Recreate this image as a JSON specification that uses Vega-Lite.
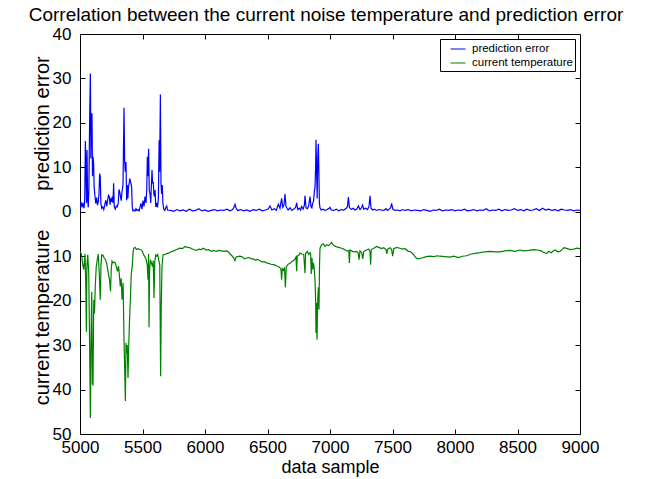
{
  "$schema": "https://vega.github.io/schema/vega-lite/v6.json",
  "width": 500,
  "height": 400,
  "autosize": {"type": "none"},
  "padding": {"left": 80, "top": 34, "right": 71, "bottom": 45},
  "title": {"text": "Correlation between the current noise temperature and prediction error", "fontSize": 19, "font": "Liberation Sans", "fontWeight": "normal", "color": "black", "anchor": "middle", "offset": 0, "dx": -4},
  "datasets": {
    "err": [
      {"x":5000,"e":0.5},{"x":5008,"e":2.2},{"x":5016,"e":1.0},{"x":5024,"e":2.0},{"x":5032,"e":0.8},{"x":5038,"e":3},{"x":5043,"e":15.9},{"x":5048,"e":9},{"x":5052,"e":2},{"x":5056,"e":13.9},{"x":5061,"e":3},{"x":5066,"e":1},{"x":5071,"e":5},{"x":5077,"e":20.4},{"x":5083,"e":31.1},{"x":5087,"e":12},{"x":5091,"e":22.1},{"x":5096,"e":21.9},{"x":5100,"e":8},{"x":5104,"e":12.4},{"x":5109,"e":10.9},{"x":5113,"e":5.6},{"x":5120,"e":3.5},{"x":5126,"e":1.9},{"x":5133,"e":3.2},{"x":5140,"e":1.5},{"x":5146,"e":2.2},{"x":5152,"e":4},{"x":5157,"e":8.6},{"x":5162,"e":7.9},{"x":5167,"e":1.9},{"x":5174,"e":0.8},{"x":5182,"e":1.1},{"x":5190,"e":0.5},{"x":5198,"e":1.5},{"x":5206,"e":2.6},{"x":5214,"e":1.2},{"x":5222,"e":2.8},{"x":5228,"e":3.7},{"x":5235,"e":3.4},{"x":5240,"e":1.6},{"x":5246,"e":3.0},{"x":5252,"e":2.2},{"x":5258,"e":3.4},{"x":5264,"e":2.0},{"x":5269,"e":6.4},{"x":5274,"e":1.1},{"x":5282,"e":0.6},{"x":5290,"e":1.3},{"x":5298,"e":1.1},{"x":5306,"e":2.0},{"x":5312,"e":5.0},{"x":5318,"e":4.5},{"x":5324,"e":3.4},{"x":5330,"e":2.5},{"x":5336,"e":4.5},{"x":5344,"e":6},{"x":5352,"e":23.4},{"x":5357,"e":11.6},{"x":5362,"e":9},{"x":5368,"e":11.2},{"x":5373,"e":2.6},{"x":5378,"e":6.0},{"x":5383,"e":3},{"x":5388,"e":5.6},{"x":5394,"e":6.5},{"x":5398,"e":7.5},{"x":5403,"e":6.8},{"x":5408,"e":6.4},{"x":5413,"e":5.5},{"x":5418,"e":1.1},{"x":5424,"e":0.2},{"x":5432,"e":0.4},{"x":5440,"e":0.2},{"x":5448,"e":0.7},{"x":5456,"e":0.3},{"x":5464,"e":0.5},{"x":5472,"e":0.2},{"x":5480,"e":1.0},{"x":5488,"e":1.9},{"x":5496,"e":0.6},{"x":5504,"e":2.5},{"x":5512,"e":1.2},{"x":5520,"e":3.4},{"x":5528,"e":2},{"x":5534,"e":5},{"x":5539,"e":12.4},{"x":5544,"e":8},{"x":5549,"e":14.2},{"x":5554,"e":4.9},{"x":5560,"e":4.0},{"x":5566,"e":2},{"x":5571,"e":6},{"x":5576,"e":9.4},{"x":5581,"e":6.4},{"x":5586,"e":6.7},{"x":5591,"e":4},{"x":5596,"e":3.4},{"x":5601,"e":4.9},{"x":5606,"e":1.1},{"x":5612,"e":2},{"x":5620,"e":1},{"x":5627,"e":3},{"x":5633,"e":16.1},{"x":5637,"e":9},{"x":5643,"e":26.4},{"x":5648,"e":6.4},{"x":5653,"e":4},{"x":5658,"e":6},{"x":5663,"e":2},{"x":5670,"e":0.6},{"x":5678,"e":0.3},{"x":5686,"e":0.9},{"x":5694,"e":1.3},{"x":5700,"e":0.4},
      {"x":5725,"e":0.3},{"x":5750,"e":0.1},{"x":5775,"e":0.5},{"x":5800,"e":0.2},{"x":5825,"e":0.4},{"x":5850,"e":0.1},{"x":5875,"e":0.6},{"x":5900,"e":0.2},{"x":5925,"e":0.3},{"x":5950,"e":0.7},{"x":5975,"e":0.2},{"x":6000,"e":0.4},{"x":6025,"e":0.1},{"x":6050,"e":0.3},{"x":6075,"e":0.5},{"x":6100,"e":0.2},{"x":6125,"e":0.4},{"x":6150,"e":0.3},{"x":6175,"e":0.6},{"x":6200,"e":0.2},{"x":6220,"e":0.5},{"x":6232,"e":1.0},{"x":6240,"e":1.7},{"x":6248,"e":0.9},{"x":6260,"e":0.3},{"x":6285,"e":0.5},{"x":6310,"e":0.2},{"x":6335,"e":0.4},{"x":6360,"e":0.1},{"x":6385,"e":0.5},{"x":6410,"e":0.3},{"x":6435,"e":0.6},{"x":6460,"e":0.2},{"x":6485,"e":0.4},{"x":6505,"e":0.6},{"x":6520,"e":1.3},{"x":6535,"e":0.4},{"x":6555,"e":0.7},{"x":6570,"e":0.3},{"x":6587,"e":1.7},{"x":6600,"e":0.8},{"x":6613,"e":3.0},{"x":6622,"e":1.0},{"x":6632,"e":1.5},{"x":6640,"e":4.0},{"x":6648,"e":1.2},{"x":6656,"e":0.8},{"x":6665,"e":0.4},{"x":6680,"e":0.9},{"x":6695,"e":0.3},{"x":6710,"e":0.6},{"x":6725,"e":1.0},{"x":6733,"e":2.0},{"x":6742,"e":0.5},{"x":6755,"e":0.8},{"x":6765,"e":0.4},{"x":6773,"e":1.2},{"x":6785,"e":0.6},{"x":6795,"e":1.5},{"x":6800,"e":3.6},{"x":6808,"e":0.9},{"x":6820,"e":0.7},{"x":6830,"e":1.4},{"x":6840,"e":3.4},{"x":6848,"e":1.2},{"x":6855,"e":0.9},{"x":6861,"e":1.9},{"x":6868,"e":2.3},{"x":6875,"e":4.6},{"x":6880,"e":5.5},{"x":6885,"e":10},{"x":6888,"e":16.2},{"x":6893,"e":9},{"x":6897,"e":3},{"x":6902,"e":12},{"x":6907,"e":15.3},{"x":6911,"e":9},{"x":6915,"e":2.0},{"x":6920,"e":0.9},{"x":6930,"e":0.4},{"x":6945,"e":0.6},{"x":6960,"e":0.3},{"x":6975,"e":0.5},{"x":6990,"e":0.7},{"x":7000,"e":1.0},{"x":7010,"e":0.4},{"x":7030,"e":0.3},{"x":7050,"e":0.6},{"x":7070,"e":0.2},{"x":7090,"e":0.5},{"x":7110,"e":0.4},{"x":7130,"e":0.8},{"x":7140,"e":1.2},{"x":7147,"e":3.3},{"x":7155,"e":1.0},{"x":7170,"e":0.5},{"x":7185,"e":0.8},{"x":7200,"e":0.4},{"x":7215,"e":0.6},{"x":7227,"e":1.3},{"x":7240,"e":0.5},{"x":7252,"e":0.9},{"x":7261,"e":1.5},{"x":7270,"e":0.6},{"x":7285,"e":0.8},{"x":7300,"e":0.5},{"x":7312,"e":1.2},{"x":7320,"e":3.6},{"x":7328,"e":0.8},{"x":7340,"e":0.4},{"x":7355,"e":0.6},{"x":7370,"e":0.3},{"x":7390,"e":0.5},{"x":7410,"e":0.4},{"x":7430,"e":0.3},{"x":7448,"e":0.7},{"x":7460,"e":0.3},{"x":7475,"e":0.6},{"x":7485,"e":0.9},{"x":7493,"e":1.9},{"x":7502,"e":0.6},{"x":7520,"e":0.3},{"x":7540,"e":0.4},{"x":7560,"e":0.2},{"x":7580,"e":0.5},
      {"x":7600,"e":0.3},{"x":7625,"e":0.5},{"x":7650,"e":0.2},{"x":7675,"e":0.4},{"x":7700,"e":0.3},{"x":7725,"e":0.2},{"x":7750,"e":0.5},{"x":7775,"e":0.3},{"x":7800,"e":0.1},{"x":7825,"e":0.4},{"x":7850,"e":0.3},{"x":7875,"e":0.6},{"x":7900,"e":0.2},{"x":7925,"e":0.4},{"x":7950,"e":0.3},{"x":7975,"e":0.5},{"x":8000,"e":0.2},{"x":8025,"e":0.4},{"x":8050,"e":0.3},{"x":8075,"e":0.6},{"x":8100,"e":0.2},{"x":8125,"e":0.3},{"x":8150,"e":0.5},{"x":8175,"e":0.2},{"x":8200,"e":0.4},{"x":8225,"e":0.3},{"x":8250,"e":0.7},{"x":8275,"e":0.2},{"x":8300,"e":0.4},{"x":8325,"e":0.3},{"x":8350,"e":0.6},{"x":8375,"e":0.2},{"x":8400,"e":0.5},{"x":8425,"e":0.3},{"x":8450,"e":0.4},{"x":8475,"e":0.7},{"x":8500,"e":0.3},{"x":8525,"e":0.5},{"x":8550,"e":0.2},{"x":8575,"e":0.6},{"x":8600,"e":0.3},{"x":8625,"e":0.4},{"x":8650,"e":0.7},{"x":8675,"e":0.3},{"x":8700,"e":0.8},{"x":8725,"e":0.4},{"x":8750,"e":0.6},{"x":8775,"e":0.3},{"x":8800,"e":0.5},{"x":8825,"e":0.2},{"x":8850,"e":0.6},{"x":8875,"e":0.4},{"x":8900,"e":0.3},{"x":8925,"e":0.5},{"x":8950,"e":0.2},{"x":8975,"e":0.4},{"x":9000,"e":0.3}
    ],
    "temp": [
      {"x":5000,"t":8.9},{"x":5008,"t":9.3},{"x":5014,"t":10},{"x":5020,"t":11.5},{"x":5030,"t":13},{"x":5040,"t":9.5},{"x":5046,"t":16},{"x":5051,"t":27},{"x":5055,"t":12.3},{"x":5062,"t":9.7},{"x":5070,"t":14},{"x":5077,"t":30.3},{"x":5083,"t":46.4},{"x":5088,"t":28.8},{"x":5094,"t":18},{"x":5099,"t":38.7},{"x":5104,"t":38.9},{"x":5110,"t":19.8},{"x":5116,"t":22.8},{"x":5122,"t":16.8},{"x":5130,"t":12.3},{"x":5138,"t":10.8},{"x":5146,"t":9.5},{"x":5154,"t":13.8},{"x":5162,"t":19.8},{"x":5168,"t":12},{"x":5174,"t":9.7},{"x":5184,"t":9.8},{"x":5194,"t":10.4},{"x":5204,"t":10.8},{"x":5212,"t":11.5},{"x":5222,"t":13},{"x":5230,"t":14.5},{"x":5236,"t":15.3},{"x":5244,"t":17.9},{"x":5250,"t":13},{"x":5256,"t":11.1},{"x":5264,"t":11.5},{"x":5272,"t":11.3},{"x":5282,"t":11.5},{"x":5290,"t":12.3},{"x":5300,"t":13.4},{"x":5308,"t":12.2},{"x":5316,"t":14.5},{"x":5322,"t":16.8},{"x":5330,"t":15},{"x":5336,"t":19.8},{"x":5345,"t":16},{"x":5352,"t":28.8},{"x":5358,"t":36},{"x":5363,"t":42.6},{"x":5368,"t":29.5},{"x":5373,"t":31.8},{"x":5378,"t":30},{"x":5384,"t":37.4},{"x":5389,"t":31},{"x":5395,"t":25.3},{"x":5403,"t":19.8},{"x":5410,"t":14},{"x":5418,"t":12.3},{"x":5425,"t":9},{"x":5430,"t":8.2},{"x":5440,"t":8.0},{"x":5452,"t":8.5},{"x":5465,"t":8.3},{"x":5478,"t":8.5},{"x":5490,"t":8.6},{"x":5500,"t":9.0},{"x":5510,"t":9.7},{"x":5520,"t":10.2},{"x":5530,"t":10.8},{"x":5538,"t":12},{"x":5544,"t":15.3},{"x":5549,"t":9.5},{"x":5552,"t":26},{"x":5557,"t":13},{"x":5564,"t":10.8},{"x":5572,"t":11.6},{"x":5580,"t":12.3},{"x":5586,"t":11},{"x":5592,"t":19.4},{"x":5598,"t":11.2},{"x":5606,"t":9.7},{"x":5614,"t":10},{"x":5622,"t":9.6},{"x":5630,"t":10.8},{"x":5638,"t":12},{"x":5645,"t":37},{"x":5650,"t":21.3},{"x":5656,"t":12.3},{"x":5664,"t":9.7},{"x":5680,"t":9.6},{"x":5693,"t":9.4},{"x":5710,"t":9.3},{"x":5730,"t":9.0},{"x":5750,"t":8.8},{"x":5773,"t":8.5},{"x":5800,"t":8.2},{"x":5820,"t":8.3},{"x":5840,"t":7.8},{"x":5860,"t":8.0},{"x":5880,"t":8.1},{"x":5907,"t":8.5},{"x":5930,"t":8.7},{"x":5950,"t":8.4},{"x":5970,"t":8.5},{"x":5987,"t":8.2},{"x":6010,"t":8.6},{"x":6030,"t":8.5},{"x":6050,"t":8.9},{"x":6067,"t":8.7},{"x":6090,"t":8.9},{"x":6110,"t":8.7},{"x":6130,"t":8.8},{"x":6150,"t":8.9},{"x":6173,"t":8.8},{"x":6190,"t":9.1},{"x":6200,"t":9.5},{"x":6215,"t":9.9},{"x":6228,"t":10.3},{"x":6240,"t":11},{"x":6248,"t":10.2},{"x":6260,"t":10.1},{"x":6280,"t":10},{"x":6300,"t":10.2},{"x":6315,"t":10.6},{"x":6333,"t":10.4},{"x":6350,"t":10.3},{"x":6370,"t":10.6},{"x":6387,"t":10.6},{"x":6405,"t":10.9},{"x":6420,"t":10.7},{"x":6440,"t":11},{"x":6460,"t":11.3},{"x":6475,"t":11.2},{"x":6493,"t":11.5},{"x":6510,"t":11.6},{"x":6528,"t":11.8},{"x":6547,"t":11.9},{"x":6560,"t":12.0},{"x":6575,"t":12.2},{"x":6587,"t":12.3},{"x":6600,"t":12.6},{"x":6608,"t":13},{"x":6613,"t":15.3},{"x":6618,"t":12.8},{"x":6628,"t":13.2},{"x":6636,"t":12.5},{"x":6643,"t":17},{"x":6650,"t":12.4},{"x":6665,"t":11.8},{"x":6680,"t":11.6},{"x":6695,"t":11.2},{"x":6707,"t":11},{"x":6720,"t":10.6},{"x":6728,"t":10.2},{"x":6733,"t":13.4},{"x":6738,"t":10},{"x":6750,"t":9.8},{"x":6760,"t":9.3},{"x":6775,"t":9.5},{"x":6790,"t":9.6},{"x":6800,"t":13.8},{"x":6805,"t":9.4},{"x":6819,"t":8.9},{"x":6830,"t":9.6},{"x":6840,"t":9.2},{"x":6845,"t":9.5},{"x":6850,"t":14.0},{"x":6856,"t":10.4},{"x":6861,"t":13},{"x":6867,"t":11.5},{"x":6872,"t":12.3},{"x":6880,"t":15.3},{"x":6885,"t":20},{"x":6888,"t":27.3},{"x":6892,"t":20.5},{"x":6896,"t":28.8},{"x":6902,"t":19.8},{"x":6907,"t":17},{"x":6912,"t":22},{"x":6916,"t":12},{"x":6920,"t":8.2},{"x":6933,"t":7.4},{"x":6947,"t":7.2},{"x":6960,"t":7.8},{"x":6973,"t":7.4},{"x":6990,"t":7.6},{"x":7013,"t":6.9},{"x":7030,"t":7.6},{"x":7053,"t":7.9},{"x":7070,"t":8.0},{"x":7093,"t":8.2},{"x":7110,"t":8.4},{"x":7133,"t":8.8},{"x":7150,"t":8.8},{"x":7155,"t":11.5},{"x":7160,"t":8.6},{"x":7180,"t":8.9},{"x":7200,"t":9.0},{"x":7213,"t":8.9},{"x":7225,"t":9.2},{"x":7232,"t":10.8},{"x":7240,"t":8.8},{"x":7253,"t":9.2},{"x":7262,"t":10.6},{"x":7270,"t":8.9},{"x":7293,"t":8.6},{"x":7310,"t":8.4},{"x":7320,"t":9.0},{"x":7325,"t":11.9},{"x":7330,"t":8.5},{"x":7350,"t":8.2},{"x":7373,"t":7.8},{"x":7390,"t":8.0},{"x":7413,"t":8.3},{"x":7430,"t":8.1},{"x":7448,"t":8.5},{"x":7455,"t":9.5},{"x":7462,"t":8.4},{"x":7480,"t":8.1},{"x":7493,"t":8.5},{"x":7501,"t":10.0},{"x":7510,"t":8.3},{"x":7533,"t":8.0},{"x":7560,"t":8.2},{"x":7580,"t":8.4},{"x":7600,"t":8.3},{"x":7627,"t":8.9},{"x":7645,"t":9.0},{"x":7667,"t":9.6},{"x":7680,"t":10.1},{"x":7693,"t":10.5},{"x":7710,"t":10.6},{"x":7730,"t":10.4},{"x":7747,"t":10.3},{"x":7770,"t":10.1},{"x":7800,"t":10},{"x":7830,"t":10.1},{"x":7860,"t":9.9},{"x":7880,"t":10},{"x":7920,"t":10.1},{"x":7960,"t":10.2},{"x":7990,"t":10.0},{"x":8027,"t":10.3},{"x":8060,"t":10.0},{"x":8093,"t":9.9},{"x":8130,"t":9.5},{"x":8173,"t":9.3},{"x":8200,"t":9.2},{"x":8240,"t":9.0},{"x":8280,"t":8.9},{"x":8320,"t":9.0},{"x":8360,"t":9.0},{"x":8400,"t":8.8},{"x":8440,"t":8.7},{"x":8480,"t":8.9},{"x":8520,"t":8.6},{"x":8547,"t":8.8},{"x":8590,"t":8.7},{"x":8627,"t":8.5},{"x":8660,"t":8.6},{"x":8690,"t":8.8},{"x":8707,"t":9.1},{"x":8733,"t":9.4},{"x":8750,"t":8.9},{"x":8770,"t":9.2},{"x":8787,"t":8.8},{"x":8805,"t":8.6},{"x":8820,"t":9.0},{"x":8840,"t":8.9},{"x":8860,"t":8.4},{"x":8872,"t":8.1},{"x":8900,"t":8.3},{"x":8920,"t":8.5},{"x":8950,"t":8.4},{"x":8975,"t":8.2},{"x":9000,"t":8.3}
    ]
  },
  "layer": [
    {
      "data": {"name": "err"},
      "mark": {"type": "line", "strokeWidth": 1.2, "clip": true},
      "encoding": {
        "x": {"field": "x", "type": "quantitative", "scale": {"domain": [5000, 9000], "nice": false, "zero": false},
              "axis": {"orient": "bottom", "values": [5000,5500,6000,6500,7000,7500,8000,8500,9000], "format": "d", "title": "data sample", "labelPadding": 10, "titlePadding": 3, "titleFontSize": 18}},
        "y": {"field": "e", "type": "quantitative", "scale": {"domain": [-50, 40], "nice": false, "zero": false},
              "axis": {"orient": "left", "values": [0,10,20,30,40], "title": "prediction error", "labelPadding": 14, "titleX": -38, "titleY": 89, "titleBaseline": "middle", "titleAngle": -90, "titleAlign": "center", "titleFontSize": 20}},
        "color": {"datum": "prediction error", "scale": {"domain": ["prediction error", "current temperature"], "range": ["#0000ff", "#008000"]},
                  "legend": {"title": null, "orient": "top-right", "offset": 5, "symbolType": "stroke", "symbolSize": 225, "symbolStrokeWidth": 1, "labelFontSize": 11.5, "labelFont": "Liberation Sans", "labelColor": "black", "strokeColor": "black", "fillColor": "white", "padding": 2, "rowPadding": 0, "labelOffset": 6, "symbolOffset": 8}}
      }
    },
    {
      "data": {"name": "temp"},
      "mark": {"type": "line", "strokeWidth": 1.2, "clip": true},
      "encoding": {
        "x": {"field": "x", "type": "quantitative", "axis": null},
        "y": {"field": "t", "type": "quantitative", "scale": {"domain": [-40, 50], "reverse": true, "nice": false, "zero": false},
              "axis": {"orient": "left", "values": [10,20,30,40,50], "title": "current temperature", "labelPadding": 14, "titleX": -38, "titleY": 283, "titleBaseline": "middle", "titleAngle": -90, "titleAlign": "center", "titleFontSize": 20}},
        "color": {"datum": "current temperature"}
      }
    },
    {
      "data": {"name": "temp"},
      "mark": {"type": "line", "strokeOpacity": 0, "color": "white"},
      "encoding": {
        "x": {"field": "x", "type": "quantitative", "axis": {"orient": "top", "values": [5500,6000,6500,7000,7500,8000,8500], "labels": false, "title": null}},
        "y": {"field": "t", "type": "quantitative", "scale": {"domain": [-40, 50], "reverse": true, "nice": false, "zero": false},
              "axis": {"orient": "right", "values": [-30,-20,-10,0,10,20,30,40], "labels": false, "title": null}}
      }
    }
  ],
  "resolve": {"scale": {"y": "independent"}, "axis": {"x": "independent", "y": "independent"}},
  "config": {
    "view": {"stroke": "black", "strokeWidth": 1},
    "font": "Liberation Sans",
    "axis": {"domain": false, "grid": false, "tickSize": -5, "tickColor": "black", "tickWidth": 1, "labelColor": "black", "titleColor": "black", "labelFont": "Liberation Sans", "titleFont": "Liberation Sans", "labelFontSize": 17, "titleFontSize": 18, "titleFontWeight": "normal", "labelFlush": false, "labelOverlap": false}
  }
}
